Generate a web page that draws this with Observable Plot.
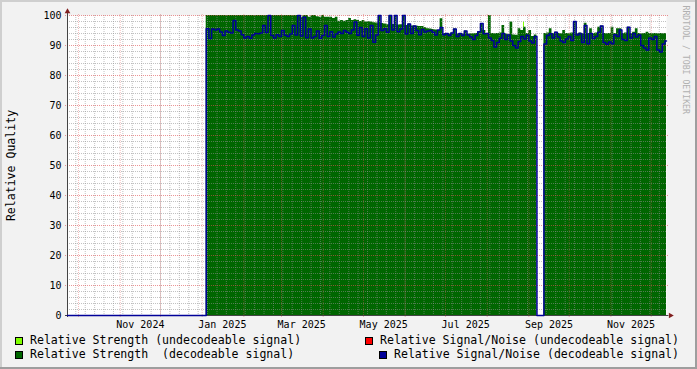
<!DOCTYPE html>
<html><head><meta charset="utf-8">
<script src="https://cdn.jsdelivr.net/npm/d3@7"></script>
<script src="https://cdn.jsdelivr.net/npm/@observablehq/plot@0.6"></script>
<style>
html,body{margin:0;padding:0;background:#f2f2f2;}
#chart{position:relative;width:697px;height:369px;background:#f2f2f2;overflow:hidden;font-family:"DejaVu Sans Mono",monospace;}
#chart svg{position:absolute;left:0;top:0;}
.bd{position:absolute;}
.sw{position:absolute;box-sizing:border-box;width:8px;height:8px;border:1px solid #000;}
.lt{position:absolute;font-size:11.56px;line-height:11.56px;white-space:pre;color:#000;}
</style></head><body><div id="chart"></div>
<script>
// ---------- DATA ----------
const domainStart = "2024-09-22T19:40Z";
const domainEnd = "2025-12-12T09:00Z";
const stepDays = 2;

const seg1Start = "2025-01-04";
const seg1Strength = [
100,100,100,100,100,100,100,100,100,100,
100,100,100,100,100,100,100,100,100,100,
100,100,100,100,100,100,100,100,100,100,
100,100,100,100,100,99.4,100,100,99.4,100,
100,99.6,99.4,100,99.4,99.4,99.4,99.0,99.4,98.1,
98.3,98.1,98.3,99.0,98.3,98.6,98.3,98.0,98.3,97.8,
97.9,97.8,97.6,97.5,100,97.3,97.2,96.9,100,97.0,
100,96.8,96.9,100,96.7,97.2,96.5,96.5,96.4,96.3,
96.3,96.0,95.6,95.5,95.3,95.2,95.0,98.9,94.0,93.9,
93.8,94.2,95.5,93.9,94.0,93.8,94.8,93.8,93.9,93.9,
94.0,94.6,97.3,95.0,94.0,100,94.0,93.9,94.0,94.2,
96.7,93.8,93.6,97.8,93.5,93.4,95.6,95.0,96.1,94.0,
95.0,93.0,93.5];
const seg1Snr = [
95.6,92.3,95.5,95.2,95.5,94.5,93.3,94.8,94.4,94.2,
98.3,95.2,94.8,93.6,92.5,93.0,92.4,93.5,94.0,93.9,
94.2,96.7,94.3,100,93.3,92.5,93.6,93.0,95.0,93.4,
93.0,93.8,96.7,93.5,100,93.2,99.4,92.6,95.5,92.5,
93.0,94.8,92.4,93.3,96.7,93.0,94.6,92.8,93.8,94.5,
94.0,95.0,94.4,94.0,95.2,97.8,93.4,96.0,93.0,95.6,
92.5,96.7,91.1,93.5,100,95.0,95.6,94.4,100,95.2,
100,94.6,95.5,100,93.8,97.2,94.0,96.5,95.0,93.6,
95.3,94.5,94.8,95.0,94.4,93.5,95.2,96.0,93.6,94.0,
93.3,94.2,95.5,93.0,94.0,93.3,94.8,93.5,92.8,92.0,
93.3,94.6,97.3,93.9,94.0,92.5,91.7,89.5,91.0,92.4,
94.0,92.0,93.5,91.5,90.0,89.2,91.3,93.0,92.2,93.4,
91.5,90.8,93.0];

const gapStart = "2025-09-07";

const seg2Start = "2025-09-12T05:00Z";
const seg2Strength = [
94.0,94.2,95.6,94.0,94.4,94.0,93.9,95.0,94.0,93.9,
94.2,98.0,94.0,94.2,93.9,97.4,94.0,95.6,94.0,94.2,
96.1,96.5,94.0,93.9,94.0,96.1,94.0,95.6,95.6,94.0,
94.2,96.1,94.0,94.4,95.6,94.0,93.9,94.0,94.4,94.0,
93.9,94.0,93.9,94.0,93.9,94.0];
const seg2Snr = [
90.5,93.3,93.9,92.5,94.4,92.8,91.5,91.0,92.2,93.0,
91.7,98.0,93.5,94.0,91.0,96.7,90.6,94.0,92.3,93.0,
94.4,96.5,91.0,90.4,91.2,90.6,93.6,93.0,95.2,92.0,
91.7,96.1,92.5,94.0,92.8,93.5,90.0,89.2,88.5,92.5,
92.0,93.0,88.5,87.8,90.5,91.5];

// undecodeable strength spikes
const weakStart = ["2025-08-28T00:00Z"];
const weakEnd = ["2025-08-28T18:00Z"];
const weakValue = [97.8];

const yTicks = [0,10,20,30,40,50,60,70,80,90,100];
const xLabelMonths = ["2024-11-01","2025-01-01","2025-03-01","2025-05-01","2025-07-01","2025-09-01","2025-11-01"];

const legendLabels = [
  "Relative Strength (undecodeable signal)",
  "Relative Signal/Noise (undecodeable signal)",
  "Relative Strength  (decodeable signal)",
  "Relative Signal/Noise (decodeable signal)"
];
const legendColors = ["#80ff00", "#ff0000", "#006600", "#000099"];

// ---------- BUILD ----------
const day = 864e5;
const X0 = new Date(domainStart), X1 = new Date(domainEnd);
const rows = [];
rows.push({date: X0, strength: 0, snr: 0});
seg1Strength.forEach((v, i) => rows.push({date: new Date(+new Date(seg1Start) + i * stepDays * day), strength: v, snr: seg1Snr[i]}));
rows.push({date: new Date(gapStart), strength: 0, snr: 0});
seg2Strength.forEach((v, i) => rows.push({date: new Date(+new Date(seg2Start) + i * stepDays * day), strength: v, snr: seg2Snr[i]}));
rows.push({date: X1, strength: seg2Strength[seg2Strength.length - 1], snr: seg2Snr[seg2Snr.length - 1]});

const weak = weakStart.map((s, i) => ({x1: new Date(s), x2: new Date(weakEnd[i]), v: weakValue[i]}));

const width = 697, height = 330, mL = 67, mR = 31, mT = 15, mB = 15;
const spanDays = (X1 - X0) / day;
const pxPerDay = (width - mL - mR) / spanDays;
const ext = 2 / pxPerDay * day;       // 2px in ms
const yExt = 2 / 3;                   // 2px in value units

const minorY = d3.range(0, 101, 2).filter(v => v % 10 !== 0);
const minorX = d3.utcSunday.range(X0, X1);
const majorX = d3.utcMonth.range(X0, X1);
const labelDates = xLabelMonths.map(m => d3.utcDay.offset(new Date(m), 15));

const minorColor = "rgba(143,143,143,0.55)";
const majorColor = "rgba(222,79,79,0.6)";
const majorColorV = "rgba(222,79,79,0.38)";

const plot = Plot.plot({
  width, height,
  marginLeft: mL, marginRight: mR, marginTop: mT, marginBottom: mB,
  style: {fontFamily: "DejaVu Sans Mono", fontSize: "10px", background: "transparent", overflow: "visible", color: "#000"},
  x: {type: "utc", domain: [X0, X1]},
  y: {domain: [0, 100]},
  marks: [
    Plot.frame({fill: "white", stroke: "none"}),
    Plot.rectY(weak, {x1: "x1", x2: "x2", y: "v", fill: "#80ff00"}),
    Plot.areaY(rows, {x: "date", y: "strength", curve: "step-after", fill: "#006600"}),
    // minor grid
    Plot.ruleY(minorY, {y: d => d, stroke: minorColor, strokeDasharray: "1,1"}),
    Plot.ruleX(minorX, {x: d => d, stroke: minorColor, strokeDasharray: "1,1"}),
    // major grid
    Plot.ruleY(yTicks, {y: d => d, x1: new Date(+X0 - ext), x2: new Date(+X1 + ext), stroke: majorColor, strokeDasharray: "1,1"}),
    Plot.ruleX(majorX, {x: d => d, y1: -yExt, y2: 100 + yExt, stroke: majorColorV, strokeDasharray: "1,1"}),
    // axes lines
    Plot.ruleY([0], {x1: new Date(+X0 - ext), x2: new Date(+X1 + 1.8 * day), stroke: "#444"}),
    Plot.ruleX([X0], {y1: -yExt, y2: 101, stroke: "#444"}),
    // SNR line
    Plot.line(rows, {x: "date", y: "snr", curve: "step-after", stroke: "#000099", strokeWidth: 1.5}),
    // arrows
    Plot.dot([0], {x: () => X0, y: () => 101.3, symbol: "triangle", r: 2.1, fill: "#801f1f", stroke: "none"}),
    Plot.dot([0], {x: () => new Date(+X1 + 3 * day), y: () => 0, symbol: "triangle", r: 2.1, rotate: 90, fill: "#801f1f", stroke: "none"}),
    // tick labels
    Plot.axisY(yTicks, {tickSize: 0, tickPadding: 6, fontSize: 10, label: null}),
    Plot.axisX(labelDates, {tickSize: 0, tickPadding: 5, fontSize: 10, tickFormat: d3.utcFormat("%b %Y"), label: null}),
    // y title
    Plot.text(["Relative Quality"], {text: d => d, frameAnchor: "left", textAnchor: "middle", rotate: -90, dx: -56.5, fontSize: 11.56, fill: "#000"}),
    // watermark
    Plot.text(["RRDTOOL / TOBI OETIKER"], {text: d => d, frameAnchor: "top-right", rotate: 90, textAnchor: "start", dx: 22.3, dy: -10, fontSize: 8.2, fill: "#b0b0b0"})
  ]
});

const chart = document.getElementById("chart");
chart.appendChild(plot);

// borders (shade)
[
  {l: 0, t: 0, w: 697, h: 2, c: "#cfcfcf"},
  {l: 0, t: 0, w: 2, h: 369, c: "#cfcfcf"},
  {l: 0, t: 367, w: 697, h: 2, c: "#9e9e9e"},
  {l: 695, t: 0, w: 2, h: 369, c: "#9e9e9e"}
].forEach(b => {
  const d = document.createElement("div");
  d.className = "bd";
  Object.assign(d.style, {left: b.l + "px", top: b.t + "px", width: b.w + "px", height: b.h + "px", background: b.c});
  chart.appendChild(d);
});

// legend
const legendPos = [
  {sx: 15, sy: 337, tx: 30, ty: 335.2},
  {sx: 365, sy: 337, tx: 380, ty: 335.2},
  {sx: 15, sy: 351, tx: 30, ty: 348.9},
  {sx: 379, sy: 351, tx: 394, ty: 348.9}
];
legendLabels.forEach((lab, i) => {
  const p = legendPos[i];
  const s = document.createElement("div");
  s.className = "sw";
  s.style.left = p.sx + "px"; s.style.top = p.sy + "px"; s.style.background = legendColors[i];
  chart.appendChild(s);
  const t = document.createElement("div");
  t.className = "lt";
  t.style.left = p.tx + "px"; t.style.top = p.ty + "px";
  t.textContent = lab;
  chart.appendChild(t);
});
</script></body></html>
